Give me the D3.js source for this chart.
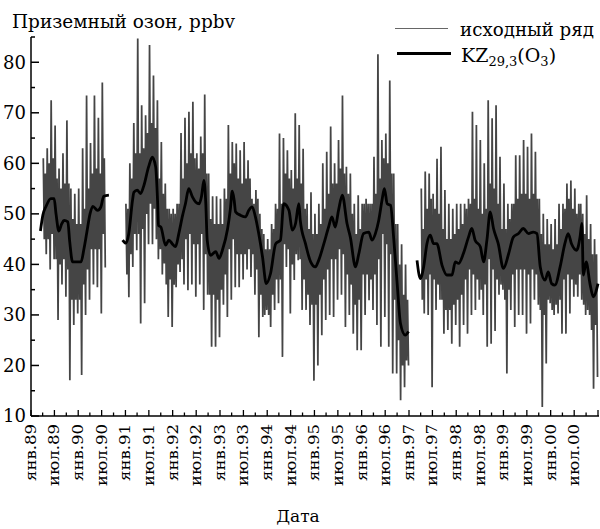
<!DOCTYPE html>
<html>
<head>
<meta charset="utf-8">
<script src="https://cdn.jsdelivr.net/npm/d3@7"></script>
<style>
body { margin: 0; background: #fff; }
text { font-family: "DejaVu Serif", serif; fill: #000; }
</style>
</head>
<body>
<div id="chart"></div>
<script>
// подписи осей
var yTicks = [10, 20, 30, 40, 50, 60, 70, 80];
var xTickLabels = ["янв.89","июл.89","янв.90","июл.90","янв.91","июл.91","янв.92","июл.92",
                   "янв.93","июл.93","янв.94","июл.94","янв.95","июл.95","янв.96","июл.96",
                   "янв.97","июл.97","янв.98","июл.98","янв.99","июл.99","янв.00","июл.00"];

// исходный ряд по месяцам с янв.89 (null - нет данных)
// rawHi/rawLo - выбросы месяца, coreHi/coreLo - плотная часть полосы
var rawHi = [null, null, null,
  61, 63, 72.5, 67.5, 59, 62, 68.5, 55, 54, 55, 63, 73.4, 64, 73.4, 69, 76,
  null, null, null, null, null,
  52, 60, 68, 84.7, 71.5, 69.5, 83.4, 77.4, 72.5, 64.2,
  56, 51, 51, 52, 66, 69, 70.2, 72.2, 62, 65.3,
  73.6, 58, 53.5, 53.5, 53, 55, 67.6, 64.2, 63.9, 62.6,
  64.2, 60.6, 53, 54.7, 50, 46, 45, 48, 52, 65.9,
  65, 62.6, 58.7, 69.9, 67.6, 62.9, 52, 54.3, 50, 52,
  60, 62.3, 67.3, 60, 64.6, 73.4, 59.3, 58, 52, 53.7,
  52, 53, 52, 61.3, 81.6, 64.6, 65.9, 76.4, 58, 48, 44, 40,
  null, null, null,
  55, 58.4, 58, 54, 60.9, 63.3, 54.7, 52, 51, 52,
  52, 52, 53, 70.2, 67.6, 64.6, 60, 72.5, 68.9, 71.5,
  61.3, 56, 52, 52, 61.6, 61.6, 64.6, 63.3, 65.9, 62.3,
  53, 50, 49, 48, 49, 52, 52, 56, 56.6, 55,
  52, 50, 53.7, 48, 45];
var rawLo = [null, null, null,
  42, 39, 41, 29, 36, 33.6, 17.1, 28, 30.3, 18.1, 30, 33, 36, 35.5, 30.3, 39.4,
  null, null, null, null, null,
  33.5, 39.5, 42.8, 28.3, 32.3, 44, 44, 45, 43, 40.2,
  29.6, 27.6, 35.5, 38.5, 36, 34.9, 36, 33.6, 36, 31,
  34, 23.7, 23.7, 25.6, 32, 29.6, 33, 35.5, 35.5, 37,
  39, 37.5, 34, 25.6, 29.6, 31, 27.6, 31, 32.3, 21.7,
  39.5, 30.3, 36.9, 40.8, 31, 31, 28, 17, 20, 26,
  29, 30, 29.6, 33, 34, 27.6, 30, 26.3, 23, 23,
  30, 32.9, 31, 28, 23.7, 29.6, 23.7, 18.4, 18.4, 13.1, 15.7, 20,
  null, null, null,
  30.3, 30, 15.7, 31, 33, 26.3, 27, 24.3, 28, 23.7,
  28, 26.3, 30, 31, 33, 30, 23.7, 24.3, 26.8, 34,
  35, 18.4, 31, 27.6, 30, 30, 26.3, 28.3, 33, 32,
  11.8, 20.4, 32.3, 30, 30.3, 26.3, 26.3, 30.3, 33.6, 33.6,
  33, 30, 30, 15.4, 17.7];
var coreHi = [null, null, null,
  58, 60, 61, 57, 55, 56, 56, 49, 48, 48, 51, 55, 58, 59, 58, 61,
  null, null, null, null, null,
  51, 57, 62, 62, 63, 66, 68, 67, 57, 54,
  51, 50, 50, 52, 57, 60, 62, 61, 59, 62,
  58, 49, 48, 48, 48, 53, 58, 60, 57, 56,
  57, 57, 52, 53, 47, 43, 43, 47, 51, 52,
  58, 57, 55, 57, 56, 51, 47, 46, 46, 48,
  51, 54, 56, 56, 59, 58, 54, 50, 46, 47,
  52, 52, 52, 54, 57, 61, 60, 58, 48, 40, 34, 33,
  null, null, null,
  47, 51, 53, 51, 50, 47, 45, 45, 46, 47,
  48, 51, 52, 53, 51, 50, 51, 56, 55, 52,
  47, 47, 49, 52, 53, 54, 54, 53, 54, 53,
  46, 44, 44, 43, 44, 47, 51, 53, 51, 50,
  52, 46, 45, 42, 42];
var coreLo = [null, null, null,
  45, 45, 46, 41, 40, 41, 39, 33, 33, 33, 36, 39, 43, 43, 43, 46,
  null, null, null, null, null,
  38, 42, 46, 46, 47, 50, 52, 51, 41, 38,
  36, 37, 36, 40, 41, 45, 46, 44, 44, 46,
  42, 34, 34, 33, 35, 38, 43, 45, 42, 42,
  42, 43, 42, 39, 34, 30, 30, 34, 37, 37,
  44, 43, 40, 42, 41, 37, 34, 32, 32, 34,
  37, 39, 41, 41, 43, 42, 38, 36, 32, 33,
  38, 38, 37, 38, 41, 46, 44, 42, 33, 25, 20, 21,
  null, null, null,
  33, 37, 38, 37, 36, 33, 31, 31, 32, 33,
  34, 37, 39, 38, 37, 35, 36, 41, 39, 37,
  36, 33, 35, 38, 39, 39, 39, 38, 39, 38,
  31, 30, 33, 31, 32, 33, 37, 38, 37, 36,
  38, 32, 31, 27, 28];

// сглаженный ряд KZ(29,3): время в долях года, null - разрыв
var kzYear = [1989.20, 1989.25, 1989.32, 1989.42, 1989.49, 1989.53, 1989.59, 1989.65, 1989.70, 1989.78,
  1989.82, 1989.88, 1990.06, 1990.12, 1990.18, 1990.25, 1990.31, 1990.41, 1990.48, 1990.54, 1990.65,
  1990.80,
  1990.94, 1991.01, 1991.07, 1991.15, 1991.18, 1991.25, 1991.32, 1991.39, 1991.49, 1991.57,
  1991.64, 1991.68, 1991.70, 1991.75, 1991.85, 1991.92, 1991.99, 1992.06, 1992.13, 1992.21,
  1992.27, 1992.34, 1992.42, 1992.49, 1992.56, 1992.61, 1992.66, 1992.70, 1992.73, 1992.80,
  1992.91, 1992.98, 1993.05, 1993.16, 1993.22, 1993.26, 1993.30, 1993.33, 1993.44, 1993.54,
  1993.61, 1993.68, 1993.75, 1993.82, 1993.90, 1993.98, 1994.07, 1994.18, 1994.28, 1994.35,
  1994.46, 1994.53, 1994.60, 1994.67, 1994.70, 1994.81, 1994.92, 1995.02, 1995.09, 1995.20,
  1995.30, 1995.37, 1995.44, 1995.51, 1995.59, 1995.69, 1995.76, 1995.87, 1995.94, 1996.04,
  1996.15, 1996.22, 1996.29, 1996.36, 1996.43, 1996.48, 1996.54, 1996.61, 1996.68, 1996.75,
  1996.82, 1996.92, 1996.99,
  1997.08,
  1997.17, 1997.24, 1997.31, 1997.38, 1997.45, 1997.52, 1997.59, 1997.70, 1997.80, 1997.91,
  1997.98, 1998.05, 1998.15, 1998.26, 1998.33, 1998.40, 1998.51, 1998.58, 1998.65, 1998.72,
  1998.79, 1998.89, 1999.00, 1999.11, 1999.21, 1999.32, 1999.42, 1999.53, 1999.63, 1999.71,
  1999.78, 1999.88, 1999.95, 2000.02, 2000.09, 2000.20, 2000.30, 2000.37, 2000.44, 2000.55,
  2000.62, 2000.66, 2000.69, 2000.75, 2000.83, 2000.90, 2001.00];
var kzVal = [46.6, 49.7, 51.5, 53, 53, 50, 46.6, 48, 48.7, 48.4,
  44.5, 40.5, 40.5, 43, 46.2, 50, 51.5, 50.7, 51.4, 53.5, 53.7,
  null,
  44.8, 44.2, 46, 52.7, 54.3, 54.7, 54, 55.6, 59.3, 61.2,
  59.3, 52.7, 47.7, 47.4, 43.8, 44.8, 44.1, 43.5, 46.1, 49.7,
  52, 55, 53.3, 52.3, 52, 53.5, 56.6, 52, 44.8, 41.8,
  42.5, 41.2, 42.8, 47, 51, 54.5, 52.7, 50.4, 49.7, 49.4,
  50.7, 51.4, 49.4, 46.1, 41.5, 36.2, 38.2, 44.1, 44.8, 52,
  50.7, 46.8, 48.1, 52, 48.7, 44.1, 40.5, 39.5, 40.8, 44.1,
  47.4, 49.4, 47.4, 50.7, 53.7, 48.1, 45.4, 39.5, 42.1, 46.1,
  46.4, 44.8, 46.1, 48.7, 52.7, 55, 52, 51.7, 44.8, 36.2,
  28.3, 26, 26.7,
  null,
  40.8, 37.2, 39.5, 44.1, 45.8, 44.1, 44.1, 39.8, 37.9, 37.9,
  40.5, 40.2, 42.1, 45.4, 47.1, 44.8, 43.5, 40.5, 44.8, 50.4,
  47.1, 44.1, 39.2, 42.1, 45.4, 46.1, 47.1, 46.1, 46.4, 46.1,
  39.5, 36.9, 38.5, 36.2, 35.9, 39.5, 44.1, 46.1, 44.1, 42.8,
  45.4, 48.1, 37.9, 40.5, 36.2, 33.6, 36.2];

var width = 600, height = 529;

var svg = d3.select("#chart").append("svg")
            .attr("width", width)
            .attr("height", height)
            .style("background", "#fff");

function yearDate(y) {
  var Y = Math.floor(y), a = new Date(Y, 0, 1), b = new Date(Y + 1, 0, 1);
  return new Date(+a + (y - Y) * (b - a));
}

var x = d3.scaleTime()
          .domain([new Date(1989, 0, 1), new Date(2001, 0, 1)])
          .range([31, 598]);
var y = d3.scaleLinear()
          .domain([10, 85])
          .range([416, 37]);

/* исходный ряд: внутри месяца выброс вверх, плотная полоса, выброс вниз */
var rawPts = [];
for (var m = 0; m < rawHi.length; m++) {
  if (rawHi[m] == null) { rawPts.push({t: yearDate(1989 + (m + 0.5) / 12), v: null}); continue; }
  rawPts.push({t: yearDate(1989 + (m + 0.125) / 12), v: rawHi[m]});
  rawPts.push({t: yearDate(1989 + (m + 0.375) / 12), v: coreLo[m]});
  rawPts.push({t: yearDate(1989 + (m + 0.625) / 12), v: coreHi[m]});
  rawPts.push({t: yearDate(1989 + (m + 0.875) / 12), v: rawLo[m]});
}
var rawLine = d3.line()
                .defined(function(d){ return d.v != null; })
                .x(function(d){ return x(d.t); })
                .y(function(d){ return y(d.v); });
svg.append("path")
   .datum(rawPts)
   .attr("d", rawLine)
   .attr("fill", "none")
   .attr("stroke", "#454545")
   .attr("stroke-width", 1.75)
   .attr("stroke-linejoin", "bevel");

/* KZ */
var kzLine = d3.line()
               .defined(function(d){ return d.v != null; })
               .x(function(d){ return x(d.t); })
               .y(function(d){ return y(d.v); })
               .curve(d3.curveMonotoneX);
var kzPts = kzYear.map(function(t, i){ return {t: yearDate(t), v: kzVal[i]}; });
svg.append("path")
   .datum(kzPts)
   .attr("d", kzLine)
   .attr("fill", "none")
   .attr("stroke", "#000")
   .attr("stroke-width", 2.8)
   .attr("stroke-linejoin", "round");

/* ось Y */
var yAxis = svg.append("g").attr("transform", "translate(31,0)");
yAxis.append("line").attr("x1", 0).attr("x2", 0).attr("y1", y(85)).attr("y2", y(10))
     .attr("stroke", "#000").attr("stroke-width", 1.5);
yAxis.selectAll(".maj").data(yTicks).enter().append("line")
     .attr("x1", 0).attr("x2", 8)
     .attr("y1", function(d){ return y(d); }).attr("y2", function(d){ return y(d); })
     .attr("stroke", "#000").attr("stroke-width", 1.5);
yAxis.selectAll(".min").data(yTicks.map(function(d){ return d + 5; })).enter().append("line")
     .attr("x1", 0).attr("x2", 4)
     .attr("y1", function(d){ return y(d); }).attr("y2", function(d){ return y(d); })
     .attr("stroke", "#000").attr("stroke-width", 1.5);
yAxis.selectAll("text").data(yTicks).enter().append("text")
     .attr("x", -5)
     .attr("y", function(d){ return y(d); })
     .attr("dy", "0.36em")
     .attr("text-anchor", "end")
     .style("font-size", "18px")
     .text(function(d){ return d; });

/* ось X */
var quarters = d3.timeMonths(new Date(1989, 0, 1), new Date(2001, 0, 2), 3);
var halfYears = d3.timeMonths(new Date(1989, 0, 1), new Date(2001, 0, 1), 6);
var xAxis = svg.append("g");
xAxis.append("line").attr("x1", 31).attr("x2", 599).attr("y1", 416).attr("y2", 416)
     .attr("stroke", "#000").attr("stroke-width", 1.5);
xAxis.selectAll(".tick").data(quarters).enter().append("line")
     .attr("x1", function(d){ return x(d); }).attr("x2", function(d){ return x(d); })
     .attr("y1", 416)
     .attr("y2", function(d){ return d.getMonth() % 6 == 0 ? 410 : 412.5; })
     .attr("stroke", "#000").attr("stroke-width", 1.3);
xAxis.selectAll("text").data(halfYears).enter().append("text")
     .attr("transform", function(d){ return "translate(" + (x(d) + 5) + ",424) rotate(-90)"; })
     .attr("text-anchor", "end")
     .style("font-size", "15px")
     .text(function(d, i){ return xTickLabels[i]; })
     .attr("lengthAdjust", "spacingAndGlyphs")
     .attr("textLength", function(){ return this.getComputedTextLength() * 1.1; });

/* подписи */
svg.append("text").attr("x", 12).attr("y", 28).style("font-size", "18px")
   .attr("textLength", 223).attr("lengthAdjust", "spacingAndGlyphs")
   .text("Приземный озон, ppbv");
svg.append("text").attr("x", 298).attr("y", 522).attr("text-anchor", "middle")
   .style("font-size", "17px").text("Дата");

/* легенда */
svg.append("line").attr("x1", 395).attr("x2", 448).attr("y1", 28.5).attr("y2", 28.5)
   .attr("stroke", "#666").attr("stroke-width", 1);
svg.append("text").attr("x", 460).attr("y", 36).style("font-size", "18px")
   .attr("textLength", 134).attr("lengthAdjust", "spacingAndGlyphs")
   .text("исходный ряд");
svg.append("line").attr("x1", 397).attr("x2", 451).attr("y1", 53.5).attr("y2", 53.5)
   .attr("stroke", "#000").attr("stroke-width", 3);
var kzText = svg.append("text").attr("x", 461).attr("y", 62).style("font-size", "19px");
kzText.append("tspan").text("KZ");
kzText.append("tspan").attr("dy", 4).style("font-size", "13px").text("29,3");
kzText.append("tspan").attr("dy", -4).text("(O");
kzText.append("tspan").attr("dy", 4).style("font-size", "13px").text("3");
kzText.append("tspan").attr("dy", -4).text(")");
</script>
</body>
</html>
